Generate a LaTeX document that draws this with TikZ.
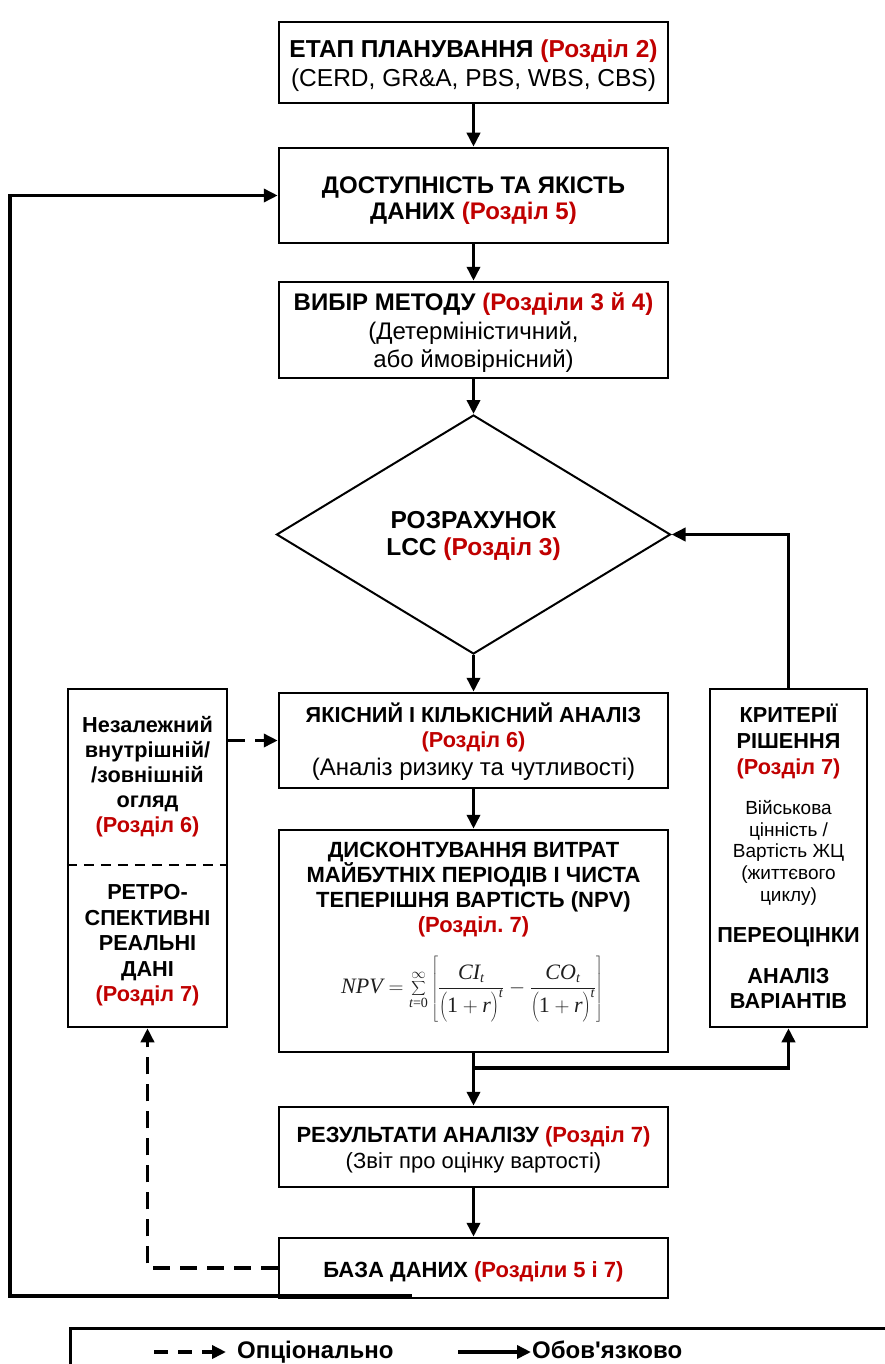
\documentclass[tikz,border=0pt]{standalone}
\usepackage[no-math]{fontspec}
\setmainfont{Liberation Sans}[Ligatures=TeXOff]
\newfontfamily\tms{Liberation Serif}
\usetikzlibrary{arrows.meta,shapes.geometric}
\definecolor{rd}{HTML}{C00000}
\newcommand\rr[1]{\textcolor{rd}{#1}}
\newcommand\row[2]{\smash{\fontsize{#1}{#1}\selectfont #2}}
\newcommand\stk[2]{\fontsize{10}{#1}\selectfont\begin{tabular}{@{}c@{}}#2\end{tabular}}
\newcommand\tmi[1]{\mbox{\tms\itshape #1}}
\newcommand\tsi[1]{\mbox{\tms\itshape\fontsize{14}{14}\selectfont #1}}
\newcommand\tsr[1]{\mbox{\tms\fontsize{14}{14}\selectfont #1}}
\newcommand\opr{\left(\rule[-0.3em]{0pt}{1.15em}\mbox{\tms 1}+\tmi{r}\right)^{\tsi{t}}}
\begin{document}
\begin{tikzpicture}[x=1pt,y=-1pt,
  box/.style={draw,line width=2.5pt,minimum width=389pt,inner sep=0pt},
  side/.style={draw,line width=2.5pt,inner sep=0pt},
  txt/.style={inner sep=0pt},
  arr/.style={line width=3.5pt,-{Triangle[length=14pt,width=13pt]}},
  darr/.style={arr,dash pattern=on 17pt off 10pt},
  ]
\useasboundingbox (0,0) rectangle (885,1364);
% boxes
\node[box,minimum height=81pt] (b1) at (473.5,62.5) {};
\node[box,minimum height=95pt] (b2) at (473.5,195.5) {};
\node[box,minimum height=96pt] (b3) at (473.5,330) {};
\node[draw,line width=2pt,diamond,aspect=1.65,minimum width=394pt,minimum height=239pt,inner sep=0pt] (dia) at (473.5,534.5) {};
\node[box,minimum height=95pt] (b4) at (473.5,740.5) {};
\node[box,minimum height=222pt] (b5) at (473.5,941) {};
\node[box,minimum height=80pt] (b6) at (473.5,1147) {};
\node[box,minimum height=60pt] (b7) at (473.5,1268) {};
\node[side,minimum width=159pt,minimum height=338pt] (lbox) at (147.5,858) {};
\node[side,minimum width=157pt,minimum height=338pt] (rbox) at (788.5,858) {};
\coordinate (dv) at (0,865);
\draw[line width=2pt,dash pattern=on 10pt off 7pt] (lbox.west |- dv) -- (lbox.east |- dv);
% texts
\node[txt] (t1) at (473.5,65.8) {\stk{29}{\row{24.5}{\bfseries ЕТАП ПЛАНУВАННЯ \rr{(Розділ 2)}}\\ \row{24.5}{(CERD, GR\&A, PBS, WBS, CBS)}}};
\node[txt] (t2) at (473.5,201.3) {\stk{26.5}{\row{24}{\bfseries ДОСТУПНІСТЬ ТА ЯКІСТЬ}\\ \row{24}{\bfseries ДАНИХ \rr{(Розділ 5)}}}};
\node[txt] (t3) at (473.5,333.4) {\stk{28.5}{\row{24}{\bfseries ВИБІР МЕТОДУ \rr{(Розділи 3 й 4)}}\\ \row{24}{(Детерміністичний,}\\ \row{24}{або ймовірнісний)}}};
\node[txt] (td) at (473.5,537) {\stk{27}{\row{24.5}{\bfseries РОЗРАХУНОК}\\ \row{24.5}{\bfseries LCC \rr{(Розділ 3)}}}};
\node[txt] (t4) at (473.5,743.5) {\stk{25}{\row{21.7}{\bfseries ЯКІСНИЙ І КІЛЬКІСНИЙ АНАЛІЗ}\\ \row{21.7}{\bfseries\rr{(Розділ 6)}}\\[3pt] \row{24}{(Аналіз ризику та чутливості)}}};
\node[txt] (t5) at (473.5,889.7) {\stk{25}{\row{22}{\bfseries ДИСКОНТУВАННЯ ВИТРАТ}\\ \row{22}{\bfseries МАЙБУТНІХ ПЕРІОДІВ І ЧИСТА}\\ \row{22}{\bfseries ТЕПЕРІШНЯ ВАРТІСТЬ (NPV)}\\ \row{22}{\bfseries\rr{(Розділ.\ 7)}}}};
\node[txt,text=black!88] (npv) at (472,989) {\fontsize{22}{26}\selectfont$\displaystyle \tmi{NPV}=\sum_{\tsi{t}\tsr{=0}}^{\infty}\left[\frac{\tmi{CI}_{\tsi{t}}}{\opr}-\frac{\tmi{CO}_{\tsi{t}}}{\opr}\right]$};
\node[txt] (t6) at (473.5,1150.2) {\stk{26}{\row{22}{\bfseries РЕЗУЛЬТАТИ АНАЛІЗУ \rr{(Розділ 7)}}\\ \row{22}{(Звіт про оцінку вартості)}}};
\node[txt] (t7) at (473.5,1273) {\stk{22}{\row{22}{\bfseries БАЗА ДАНИХ \rr{(Розділи 5 і 7)}}}};
\node[txt] (tl1) at (147.5,777.3) {\stk{25}{\row{21.7}{\bfseries Незалежний}\\ \row{21.7}{\bfseries внутрішній/}\\ \row{21.7}{\bfseries /зовнішній}\\ \row{21.7}{\bfseries огляд}\\ \row{21.7}{\bfseries\rr{(Розділ 6)}}}};
\node[txt] (tl2) at (147.5,945.5) {\stk{25.5}{\row{21.7}{\bfseries РЕТРО-}\\ \row{21.7}{\bfseries СПЕКТИВНІ}\\ \row{21.7}{\bfseries РЕАЛЬНІ}\\ \row{21.7}{\bfseries ДАНІ}\\ \row{21.7}{\bfseries\rr{(Розділ 7)}}}};
\node[txt] (tr1) at (788.5,743.4) {\stk{26}{\row{21.7}{\bfseries КРИТЕРІЇ}\\ \row{21.7}{\bfseries РІШЕННЯ}\\ \row{21.7}{\bfseries\rr{(Розділ 7)}}}};
\node[txt] (tr2) at (788.5,853.5) {\stk{21.7}{\row{19}{Військова}\\ \row{19}{цінність /}\\ \row{19}{Вартість ЖЦ}\\ \row{19}{(життєвого}\\ \row{19}{циклу)}}};
\node[txt] (tr3) at (788.5,937.9) {\stk{21}{\row{21.7}{\bfseries ПЕРЕОЦІНКИ}}};
\node[txt] (tr4) at (788.5,990.6) {\stk{25}{\row{21.7}{\bfseries АНАЛІЗ}\\ \row{21.7}{\bfseries ВАРІАНТІВ}}};
% connectors
\draw[arr] (b1.south) -- (b2.north);
\draw[arr] (b2.south) -- (b3.north);
\draw[arr] (b3.south) -- (dia.north);
\draw[arr] (dia.south) -- (b4.north);
\draw[arr] (b4.south) -- (b5.north);
\draw[arr] (b5.south) -- (b6.north);
\draw[arr] (b6.south) -- (b7.north);
\coordinate (br) at (473.5,1068);
\draw[arr] (br) -| (rbox.south);
\draw[arr] (rbox.north) |- (dia.east);
\draw[darr] (lbox.east |- b4.west) -- (b4.west);
\draw[darr] (b7.west) -| (lbox.south);
\coordinate (fb) at (412,1296);
\coordinate (lx) at (10,1296);
\draw[arr] (fb) -- (lx) |- (b2.west);
% legend
\node[draw,line width=2.5pt,anchor=north west,minimum width=900pt,minimum height=100pt,inner sep=0pt] (leg) at (69,1327) {};
\coordinate (d1) at (154,1352);
\coordinate (d2) at (226,1352);
\draw[line width=3.5pt,dash pattern=on 14pt off 10pt,-{Triangle[length=14pt,width=13pt]}] (d1) -- (d2);
\node[txt,anchor=base west] (lo) at (237,1358.6) {\fontsize{24}{24}\selectfont\bfseries Опціонально};
\coordinate (s1) at (458,1352);
\coordinate (s2) at (531,1352);
\draw[arr] (s1) -- (s2);
\node[txt,anchor=base west] (lm) at (532,1358.6) {\fontsize{24}{24}\selectfont\bfseries Обов'язково};
\end{tikzpicture}
\end{document}
